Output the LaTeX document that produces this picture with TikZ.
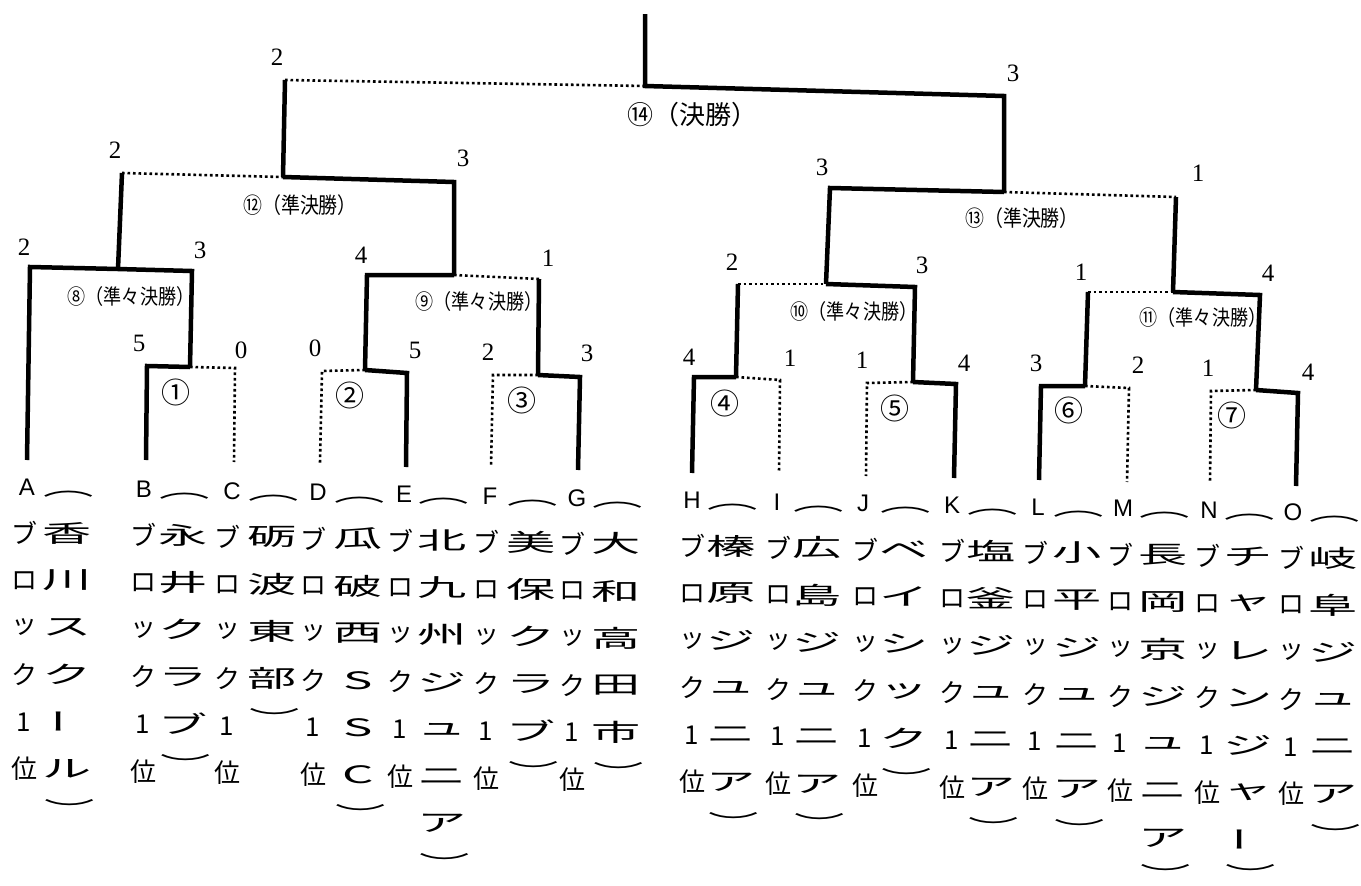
\documentclass[tikz,border=0pt]{standalone}
\usepackage{fontspec}
\newfontfamily\jp{Noto Sans CJK JP}
\newfontfamily\latsans{Liberation Sans}
\newfontfamily\latserif{Liberation Serif}
\newcommand\tc[1]{\scalebox{2.05}[1]{#1}}
\newcommand\tcp[1]{\scalebox{2.1}[1]{#1}}
\newcommand\lbl[1]{\scalebox{0.86}[1]{#1}}
\tikzset{
  win/.style={line width=4.5pt, line join=miter, line cap=butt},
  lose/.style={line width=2.6pt, dash pattern=on 2.6pt off 2.9pt},
  score/.style={font=\latserif\fontsize{25}{25}\selectfont, inner sep=0pt},
  letter/.style={font=\latsans\fontsize{24}{24}\selectfont, inner sep=0pt},
  blk/.style={font=\jp\fontsize{26}{26}\selectfont, inner sep=0pt},
  team/.style={font=\jp\fontsize{24}{24}\selectfont, inner sep=0pt},
  qlabel/.style={font=\jp\fontsize{21}{21}\selectfont, inner sep=0pt},
  slabel/.style={font=\jp\fontsize{22}{22}\selectfont, inner sep=0pt},
  flabel/.style={font=\jp\fontsize{26}{26}\selectfont, inner sep=0pt},
  circ/.style={font=\jp\fontsize{29}{29}\selectfont, inner sep=0pt},
}
\newcommand\teamcolumn[5]{%
  \pgfmathsetmacro\dy{0.0197*(#2-27)}
  \node[letter] (L#1) at (#2,{487+\dy}) {#1};
  \foreach \c [count=\i] in {ブ,ロ,ッ,ク,1,位}
    \node[blk] (#1b\i) at (#3,{533+(\i-1)*47.2+\dy}) {\c};
  \node[team] (#1open) at (#4+2,{494+\dy}) {\tcp{︵}};
  \foreach \c [count=\i] in {#5}
    {\node[team] (#1t\i) at (#4,{533+(\i-1)*47.2+\dy}) {\tc{\c}}; \xdef\nlast{\i}}
  \pgfmathsetmacro\cy{min(533+\nlast*47.2-7+\dy,874)}
  \node[team] (#1close) at (#4+3,\cy) {\tcp{︶}};
}
\begin{document}
\begin{tikzpicture}[x=1pt,y=-1pt]
\useasboundingbox (0,0) rectangle (1361,886);
% match points
\coordinate (top) at (645,14);
\coordinate (c14) at (645,86);  \coordinate (l14) at (285,80);  \coordinate (r14) at (1004,96);
\coordinate (c12) at (283,177); \coordinate (l12) at (122,173); \coordinate (r12) at (454,182);
\coordinate (c13) at (1004,192);\coordinate (l13) at (830,188); \coordinate (r13) at (1176,197);
\coordinate (c8) at (118,269);  \coordinate (l8) at (30,267);   \coordinate (r8) at (192,271);
\coordinate (c9) at (454,275);  \coordinate (l9) at (367,275);  \coordinate (r9) at (539,279);
\coordinate (c10) at (826,284); \coordinate (l10) at (738,284); \coordinate (r10) at (915,287);
\coordinate (c11) at (1173,292);\coordinate (l11) at (1088,292);\coordinate (r11) at (1260,295);
\coordinate (c1) at (190,367);  \coordinate (l1) at (147,366);  \coordinate (r1) at (235,368);
\coordinate (c2) at (365,370);  \coordinate (l2) at (322,371);  \coordinate (r2) at (407,373);
\coordinate (c3) at (538,375);  \coordinate (l3) at (493,375);  \coordinate (r3) at (580,377);
\coordinate (c4) at (736,377);  \coordinate (l4) at (694,377);  \coordinate (r4) at (780,380);
\coordinate (c5) at (913,382);  \coordinate (l5) at (867,383);  \coordinate (r5) at (956,384);
\coordinate (c6) at (1085,386); \coordinate (l6) at (1041,386); \coordinate (r6) at (1129,388);
\coordinate (c7) at (1256,390); \coordinate (l7) at (1211,391); \coordinate (r7) at (1298,393);
% team line ends
\coordinate (eA) at (27,460);  \coordinate (eB) at (146,460); \coordinate (eC) at (234,462);
\coordinate (eD) at (320,463); \coordinate (eE) at (406,467); \coordinate (eF) at (491,467);
\coordinate (eG) at (578,470); \coordinate (eH) at (692,473); \coordinate (eI) at (779,473);
\coordinate (eJ) at (866,476); \coordinate (eK) at (954,478); \coordinate (eL) at (1039,480);
\coordinate (eM) at (1127,482);\coordinate (eN) at (1210,483); \coordinate (eO) at (1296,486);
% final
\draw[win] (top) -- (c14) -- (r14) -- (c13);
\draw[lose] (l14) -- (c14);
\draw[win] (l14) -- (c12);
% semifinals
\draw[lose] (l12) -- (c12);
\draw[win] (c12) -- (r12) -- (c9);
\draw[win] (l12) -- (c8);
\draw[win] (c8) -- (l8) -- (eA);
\draw[win] (c13) -- (l13) -- (c10);
\draw[lose] (c13) -- (r13);
\draw[win] (r13) -- (c11);
% quarterfinals
\draw[lose] (l8) -- (c8);
\draw[win] (c8) -- (r8) -- (c1);
\draw[win] (c9) -- (l9) -- (c2);
\draw[lose] (c9) -- (r9);
\draw[win] (r9) -- (c3);
\draw[lose] (l10) -- (c10);
\draw[win] (l10) -- (c4);
\draw[win] (c10) -- (r10) -- (c5);
\draw[lose] (l11) -- (c11);
\draw[win] (l11) -- (c6);
\draw[win] (c11) -- (r11) -- (c7);
% first round
\draw[win] (c1) -- (l1) -- (eB);  \draw[lose] (c1) -- (r1) -- (eC);
\draw[lose] (c2) -- (l2) -- (eD); \draw[win] (c2) -- (r2) -- (eE);
\draw[lose] (c3) -- (l3) -- (eF); \draw[win] (c3) -- (r3) -- (eG);
\draw[win] (c4) -- (l4) -- (eH);  \draw[lose] (c4) -- (r4) -- (eI);
\draw[lose] (c5) -- (l5) -- (eJ); \draw[win] (c5) -- (r5) -- (eK);
\draw[win] (c6) -- (l6) -- (eL);  \draw[lose] (c6) -- (r6) -- (eM);
\draw[lose] (c7) -- (l7) -- (eN); \draw[win] (c7) -- (r7) -- (eO);
% scores
\foreach \x/\y/\s [count=\k] in {277/57/2,1013/73/3,115/150/2,463/158/3,822/167/3,1198/173/1,
  24/247/2,200/250/3,361/255/4,548/258/1,732/262/2,922/265/3,1081/272/1,1268/273/4,
  139/343/5,241/350/0,315/348/0,415/350/5,488/352/2,587/353/3,689/357/4,790/358/1,
  862/360/1,964/363/4,1036/363/3,1138/365/2,1208/368/1,1308/372/4}
  \node[score] (sc\k) at (\x,\y) {\s};
% match labels
\node[flabel] (m14) at (692,115) {⑭（決勝）};
\node[slabel] (m12) at (300,205) {\lbl{⑫（準決勝）}};
\node[slabel] (m13) at (1022,218) {\lbl{⑬（準決勝）}};
\node[qlabel] (m8) at (131,297) {\lbl{⑧（準々決勝）}};
\node[qlabel] (m9) at (479,302) {\lbl{⑨（準々決勝）}};
\node[qlabel] (m10) at (854,312) {\lbl{⑩（準々決勝）}};
\node[qlabel] (m11) at (1203,318) {\lbl{⑪（準々決勝）}};
\node[circ] (m1) at (176,392) {①};
\node[circ] (m2) at (350,395) {②};
\node[circ] (m3) at (522,400) {③};
\node[circ] (m4) at (725,403) {④};
\node[circ] (m5) at (895,408) {⑤};
\node[circ] (m6) at (1069,410) {⑥};
\node[circ] (m7) at (1232,415) {⑦};
% teams
\teamcolumn{A}{27}{24}{67}{香,川,ス,ク,{\rotatebox{90}{ー}},ル}
\teamcolumn{B}{144}{143}{183}{永,井,ク,ラ,ブ}
\teamcolumn{C}{232}{227}{272}{砺,波,東,部}
\teamcolumn{D}{318}{313}{358}{瓜,破,西,S,S,C}
\teamcolumn{E}{404}{400}{442}{北,九,州,ジ,ュ,ニ,ア}
\teamcolumn{F}{490}{486}{531}{美,保,ク,ラ,ブ}
\teamcolumn{G}{577}{572}{616}{大,和,高,田,市}
\teamcolumn{H}{692}{692}{731}{榛,原,ジ,ュ,ニ,ア}
\teamcolumn{I}{777}{778}{817}{広,島,ジ,ュ,ニ,ア}
\teamcolumn{J}{863}{865}{904}{ベ,イ,シ,ッ,ク}
\teamcolumn{K}{952}{952}{991}{塩,釜,ジ,ュ,ニ,ア}
\teamcolumn{L}{1038}{1035}{1077}{小,平,ジ,ュ,ニ,ア}
\teamcolumn{M}{1123}{1120}{1163}{長,岡,京,ジ,ュ,ニ,ア}
\teamcolumn{N}{1209}{1207}{1248}{チ,ャ,レ,ン,ジ,ャ,{\rotatebox{90}{ー}}}
\teamcolumn{O}{1293}{1291}{1333}{岐,阜,ジ,ュ,ニ,ア}
\end{tikzpicture}
\end{document}
